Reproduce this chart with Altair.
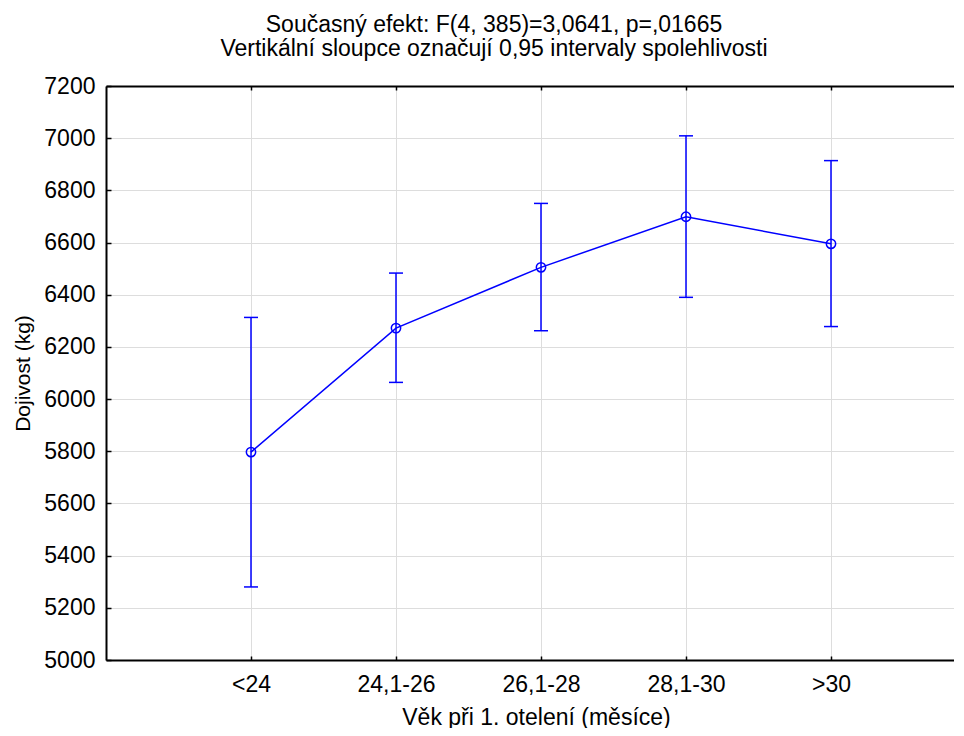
import altair as alt
import pandas as pd

# ---- data ----
categories = ["<24", "24,1-26", "26,1-28", "28,1-30", ">30"]
means = [5797, 6272, 6505, 6699, 6595]
lower = [5280, 6064, 6262, 6390, 6278]
upper = [6313, 6483, 6750, 7009, 6914]
y_ticks = [5000, 5200, 5400, 5600, 5800, 6000, 6200, 6400, 6600, 6800, 7000, 7200]

title_lines = ["Současný efekt: F(4, 385)=3,0641, p=,01665",
               "Vertikální sloupce označují 0,95 intervaly spolehlivosti"]
x_title = "Věk při 1. otelení (měsíce)"
y_title = "Dojivost (kg)"

df = pd.DataFrame({
    "idx": list(range(1, len(categories) + 1)),
    "cat": categories,
    "mean": means,
    "lo": lower,
    "hi": upper,
})

W, H = 870, 574
STEP = 145
XDOM = [0, W / STEP]
YDOM = [5000, 7200]
BLUE = "#0000ff"
FONT = "Liberation Sans"
GRID = "#dddddd"
FS = 23
idx_vals = list(range(1, len(categories) + 1))
label_expr = "[" + ",".join("'" + c + "'" for c in categories) + "][datum.value - 1]"

xs = alt.Scale(domain=XDOM, nice=False, zero=False)
ys = alt.Scale(domain=YDOM, nice=False, zero=False)

common = dict(labelFont=FONT, titleFont=FONT, labelColor="black", titleColor="black",
              titleFontWeight="normal")

# main axes
x_main = alt.X("idx:Q", scale=xs, axis=alt.Axis(
    orient="bottom", values=idx_vals, labelExpr=label_expr, title=x_title,
    grid=True, gridColor=GRID, gridWidth=1, domainColor="black", domainWidth=2,
    ticks=False, tickSize=0, labelPadding=13, labelFontSize=FS, titleFontSize=FS,
    titlePadding=10, titleX=435 - 5, **common))
y_main_axis = alt.Axis(
    orient="left", values=y_ticks, format="d", title=y_title, grid=True, gridColor=GRID,
    gridWidth=1, domainColor="black", domainWidth=2, ticks=False, tickSize=0,
    labelPadding=11, labelFontSize=FS, titleFontSize=21, titlePadding=10, **common)

# frame / inward tick axes
x_top_frame = alt.X("idx:Q", scale=xs, axis=alt.Axis(
    orient="top", values=idx_vals, labels=False, ticks=False, grid=False, title=None,
    domainColor="black", domainWidth=2))
x_bottom_ticks = alt.X("idx:Q", scale=xs, axis=alt.Axis(
    orient="bottom", values=idx_vals, labels=False, domain=False, grid=False, title=None,
    ticks=True, tickSize=4, tickColor="black", tickWidth=1.5, offset=-4))
x_top_ticks = alt.X("idx:Q", scale=xs, axis=alt.Axis(
    orient="top", values=idx_vals, labels=False, domain=False, grid=False, title=None,
    ticks=True, tickSize=4, tickColor="black", tickWidth=1.5, offset=-4))
y_left_ticks = alt.Y("lo:Q", scale=ys, axis=alt.Axis(
    orient="left", values=y_ticks, labels=False, domain=False, grid=False, title=None,
    ticks=True, tickSize=5, tickColor="black", tickWidth=1.5, offset=-5))

base = alt.Chart(df)

err = base.mark_rule(color=BLUE, strokeWidth=1.5).encode(
    x=x_main, y=alt.Y("lo:Q", scale=ys, axis=y_main_axis), y2="hi:Q")

cap_lo = base.mark_point(shape="M-1,0L1,0", size=196, filled=False, color=BLUE,
                         strokeWidth=1.5, opacity=1).encode(x=x_top_frame, y=y_left_ticks)
cap_hi = base.mark_point(shape="M-1,0L1,0", size=196, filled=False, color=BLUE,
                         strokeWidth=1.5, opacity=1).encode(
    x=x_bottom_ticks, y=alt.Y("hi:Q", scale=ys, axis=None))
line = base.mark_line(color=BLUE, strokeWidth=1.5).encode(
    x=x_top_ticks, y=alt.Y("mean:Q", scale=ys, axis=None))
pts = base.mark_point(shape="circle", size=87, filled=False, color=BLUE,
                      strokeWidth=1.5, opacity=1).encode(
    x=alt.X("idx:Q", scale=xs, axis=None), y=alt.Y("mean:Q", scale=ys, axis=None))

chart = alt.layer(err, cap_lo, cap_hi, line, pts).resolve_axis(
    x="independent", y="independent"
).properties(
    width=W, height=H,
    autosize=alt.AutoSizeParams(type="none"),
    padding={"left": 98, "top": 78, "right": -22, "bottom": 68},
    title=alt.TitleParams(text=title_lines, font=FONT, fontSize=FS, fontWeight="normal",
                          color="black", anchor="middle", frame="group", lineHeight=24,
                          dx=-47, offset=14),
).configure(background="white").configure_view(strokeWidth=0, stroke="transparent")

chart.save("out.html", embed_options={"renderer": "svg", "actions": False})
